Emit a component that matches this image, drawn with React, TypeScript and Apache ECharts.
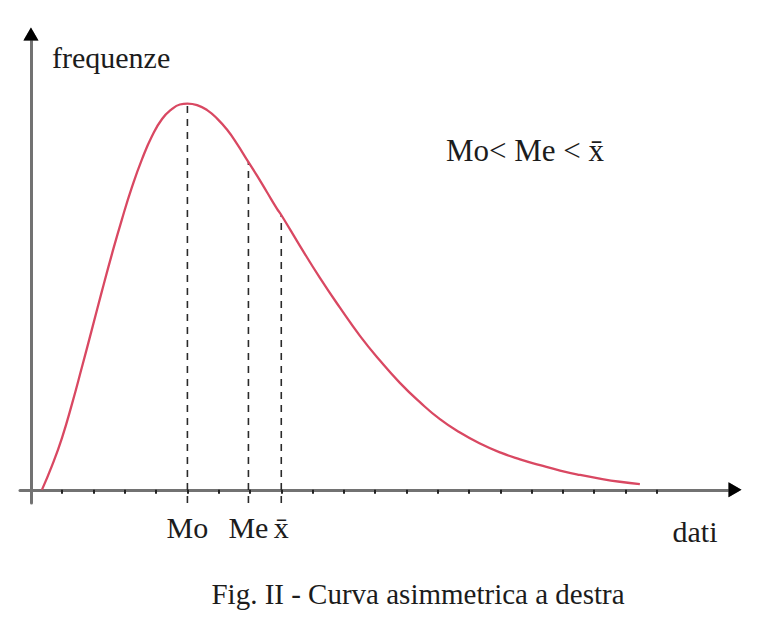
import React, { useEffect, useRef } from 'react';
import * as echarts from 'echarts';

// Curve (x in tick units, y as frequency with the peak at 100)
const curveX = [0.35, 0.67, 0.99, 1.31, 1.63, 1.95, 2.27, 2.59, 2.91, 3.23, 3.55, 3.87, 4.19, 4.51, 4.76, 5.0, 5.31, 5.63, 5.95, 6.27, 6.59, 6.9, 7.22, 7.54, 7.86, 8.0, 8.6, 9.24, 9.88, 10.52, 11.16, 11.79, 12.43, 13.07, 13.71, 14.35, 14.99, 15.63, 16.27, 16.91, 17.55, 18.18, 18.82, 19.46];
const curveY = [0, 6.2, 13.4, 22.2, 31.8, 41.6, 51.5, 61.1, 70.1, 78.4, 85.6, 91.6, 96.0, 98.6, 99.75, 100, 99.6, 98.3, 96.1, 93.2, 89.5, 85.5, 81.4, 77.1, 72.8, 71.15, 63.1, 54.8, 47.1, 39.8, 33.4, 27.7, 22.7, 18.3, 14.85, 12.0, 9.7, 7.9, 6.4, 5.0, 3.85, 2.9, 2.1, 1.5];

// Position measures
const markerNames = ['Mo', 'Me', 'x\u0304'];
const markerX = [5, 6.95, 8];
const markerY = [100, 84.9, 71.15];

// Small tick marks on the x axis
const tickValues = [1, 2, 3, 4, 5, 6, 7, 8, 9, 10, 11, 12, 13, 14, 15, 16, 17, 18, 19, 20];

const X_MIN = -0.35;
const X_MAX = 22.5;
const Y_MIN = -3.4;
const Y_MAX = 118;

const FONT = '"Liberation Serif", "Times New Roman", serif';
const TEXT = '#1c1c1c';

export default function App() {
  const ref = useRef<HTMLDivElement>(null);

  useEffect(() => {
    document.body.style.margin = '0';
    if (!ref.current) return;
    const chart = echarts.init(ref.current, null, { renderer: 'svg' });

    const curveData = curveX.map((x, i) => [x, curveY[i]]);
    const dashSeries = markerX.map((x, i) => ({
      type: 'line',
      data: [[x, Y_MIN], [x, markerY[i]]],
      showSymbol: false,
      silent: true,
      lineStyle: { color: '#2a2a2a', width: 1.6, type: [7, 6] },
      z: 1,
    }));

    const arrowLine = (color: string, width: number) => ({
      show: true,
      onZero: true,
      lineStyle: { color, width },
      symbol: ['none', 'triangle'],
      symbolSize: [15, 13],
    });

    chart.setOption({
      animation: false,
      backgroundColor: '#ffffff',
      grid: { left: 20, right: 25, top: 34, bottom: 137 },
      xAxis: [
        {
          type: 'value',
          min: X_MIN,
          max: X_MAX,
          position: 'bottom',
          splitLine: { show: false },
          axisLine: arrowLine('#727272', 3),
          axisTick: {
            show: true,
            customValues: tickValues,
            length: 4,
            lineStyle: { color: '#222', width: 2 },
          },
          axisLabel: {
            show: true,
            customValues: markerX,
            formatter: (v: number) => markerNames[markerX.indexOf(v)] ?? '',
            fontFamily: FONT,
            fontSize: 30,
            color: TEXT,
            margin: 9,
          },
        },
        {
          type: 'value',
          min: X_MIN,
          max: X_MAX,
          position: 'bottom',
          splitLine: { show: false },
          axisLine: arrowLine('#000000', 0),
          axisTick: { show: false },
          axisLabel: { show: false },
        },
      ],
      yAxis: [
        {
          type: 'value',
          min: Y_MIN,
          max: Y_MAX,
          splitLine: { show: false },
          axisLine: arrowLine('#727272', 3),
          axisTick: { show: false },
          axisLabel: { show: false },
        },
        {
          type: 'value',
          min: Y_MIN,
          max: Y_MAX,
          position: 'left',
          splitLine: { show: false },
          axisLine: arrowLine('#000000', 0),
          axisTick: { show: false },
          axisLabel: { show: false },
        },
      ],
      series: [
        ...dashSeries,
        {
          type: 'line',
          data: curveData,
          smooth: 0.5,
          showSymbol: false,
          silent: true,
          lineStyle: { color: '#d94862', width: 2.3 },
          z: 3,
        },
      ],
      graphic: [
        {
          type: 'text',
          x: 52,
          y: 57,
          style: { text: 'frequenze', font: `30px ${FONT}`, fill: TEXT, verticalAlign: 'middle', align: 'left' },
        },
        {
          type: 'text',
          x: 446,
          y: 150,
          style: { text: 'Mo< Me < x\u0304', font: `31px ${FONT}`, fill: TEXT, verticalAlign: 'middle', align: 'left' },
        },
        {
          type: 'text',
          x: 695,
          y: 531,
          style: { text: 'dati', font: `30px ${FONT}`, fill: TEXT, verticalAlign: 'middle', align: 'center' },
        },
        {
          type: 'text',
          x: 418,
          y: 594,
          style: { text: 'Fig. II - Curva asimmetrica a destra', font: `29px ${FONT}`, fill: TEXT, verticalAlign: 'middle', align: 'center' },
        },
      ],
    });

    return () => chart.dispose();
  }, []);

  return <div ref={ref} style={{ position: 'absolute', left: 0, top: 0, width: 760, height: 640 }} />;
}
